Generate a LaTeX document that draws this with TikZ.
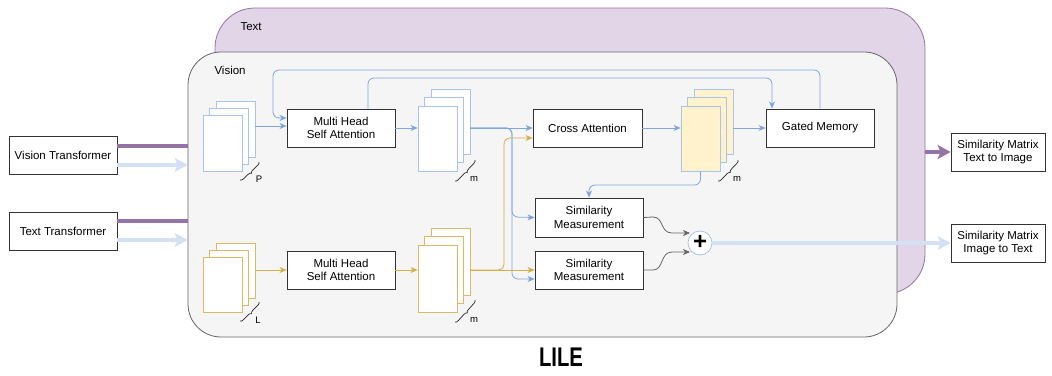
\documentclass[tikz,border=0pt]{standalone}
\usepackage{fontspec}
\setmainfont{Liberation Sans}
\usetikzlibrary{arrows.meta,calc,decorations.pathreplacing}
\definecolor{purpfill}{HTML}{E1D5E7}
\definecolor{purpline}{HTML}{9673A6}
\definecolor{visfill}{HTML}{F5F5F5}
\definecolor{visline}{HTML}{666666}
\definecolor{blu}{HTML}{7EA6E0}
\definecolor{pageblu}{HTML}{A9C4EB}
\definecolor{lightblu}{HTML}{D4E1F5}
\definecolor{gold}{HTML}{D6AE4A}
\definecolor{yel}{HTML}{FFF2CC}
\definecolor{gry}{HTML}{666666}
\begin{document}
\begin{tikzpicture}[x=1pt,y=-1pt,font=\fontsize{11.5}{13.5}\selectfont,
  box/.style={draw=black!80,fill=white,line width=0.8pt,align=center,inner sep=0pt,minimum width=108pt,minimum height=38pt},
  vpage/.style={draw=pageblu,fill=white,line width=0.8pt,minimum width=39pt,minimum height=#1,inner sep=0pt},
  opage/.style={draw=gold!85,fill=white,line width=0.8pt,minimum width=39pt,minimum height=#1,inner sep=0pt},
  ypage/.style={draw=pageblu,fill=yel,line width=0.8pt,minimum width=39pt,minimum height=#1,inner sep=0pt},
  bl/.style={draw=blu,line width=0.8pt,rounded corners=6pt,-{Stealth[length=7pt,width=6pt,inset=2pt]}},
  gl/.style={draw=gold,line width=0.8pt,rounded corners=6pt,-{Stealth[length=7pt,width=6pt,inset=2pt]}},
  grl/.style={draw=gry,line width=0.8pt,-{Stealth[length=7pt,width=6pt,inset=2pt]}},
  thickpurp/.style={draw=purpline,line width=4pt},
  thickblu/.style={draw=lightblu,line width=4pt,-{Stealth[length=13pt,width=14pt,inset=3pt]}},
  multmark/.style={draw=black!85,line width=0.7pt,decorate,decoration={brace,amplitude=3pt}},
  small/.style={font=\fontsize{9.5}{10}\selectfont,inner sep=0pt}]
\useasboundingbox (0,0) rectangle (1052,375);

% containers
\node[draw=purpline,fill=purpfill,line width=0.8pt,rounded corners=40pt,minimum width=710pt,minimum height=286pt,inner sep=0pt] (txtbox) at (570,151) {};
\node[anchor=west] (txtlbl) at (237,27) {Text};
\node[draw=visline,fill=visfill,line width=0.8pt,rounded corners=33pt,minimum width=709pt,minimum height=285pt,inner sep=0pt] (visbox) at (542.5,194.5) {};
\node[anchor=west] (vislbl) at (211,70) {Vision};

% outer boxes
\node[box] (vt) at (63,155) {Vision Transformer};
\node[box] (tt) at (63,231) {Text Transformer};
\node[box,minimum width=94pt] (sm1) at (998,152) {Similarity Matrix\\Text to Image};
\node[box,minimum width=94pt] (sm2) at (998,243) {Similarity Matrix\\Image to Text};

% inner boxes
\node[box] (mh1) at (341,128) {Multi Head\\Self Attention};
\node[box] (mh2) at (341,270) {Multi Head\\Self Attention};
\node[box,minimum width=109pt] (ca) at (587.5,128) {Cross Attention};
\node[box] (gm) at (820,128) {Gated Memory};
\node[box,minimum height=39pt] (s1) at (589,217.5) {Similarity\\Measurement};
\node[box] (s2) at (589,270) {Similarity\\Measurement};
\node[draw=pageblu,fill=white,line width=0.8pt,circle,minimum size=24pt,inner sep=0pt] (plus) at (700,243) {};
\node[font=\fontsize{24}{24}\selectfont\bfseries,inner sep=0pt] (plussign) at (700,242) {+};

% page stacks
\node[vpage=56pt] (p3) at (235.5,129) {};
\node[vpage=56pt] (p2) at (229,136) {};
\node[vpage=56pt] (p1) at (222.5,143) {};

\node[vpage=65pt] (m3) at (450.5,121.5) {};
\node[vpage=65pt] (m2) at (444,130) {};
\node[vpage=65pt] (m1) at (437.5,138.5) {};

\node[ypage=65pt] (y3) at (713.5,121.5) {};
\node[ypage=65pt] (y2) at (707,130) {};
\node[ypage=65pt] (y1) at (700.5,138.5) {};

\node[opage=55pt] (l3) at (235.5,270.5) {};
\node[opage=55pt] (l2) at (229,277.5) {};
\node[opage=55pt] (l1) at (222.5,284.5) {};

\node[opage=67pt] (t3) at (450.5,261.5) {};
\node[opage=67pt] (t2) at (444,270) {};
\node[opage=67pt] (t1) at (437.5,278.5) {};

% multiplicity marks
\draw[multmark] (259,162) -- (240,180);
\node[small] (lp) at (259,179) {P};
\draw[multmark] (475,160) -- (455,181);
\node[small] (lm1) at (474,179) {m};
\draw[multmark] (738,160) -- (718,181);
\node[small] (lm2) at (737,179) {m};
\draw[multmark] (259,302) -- (240,321);
\node[small] (ll) at (258,320) {L};
\draw[multmark] (475,300) -- (455,322);
\node[small] (lm3) at (474,320) {m};

% inputs
\draw[thickpurp] (vt.east |- 0,146) -- (visbox.west |- 0,146);
\draw[thickblu] (vt.east |- 0,165) -- (visbox.west |- 0,165);
\draw[thickpurp] (tt.east |- 0,221) -- (visbox.west |- 0,221);
\draw[thickblu] (tt.east |- 0,240) -- (visbox.west |- 0,240);

% outputs
\draw[draw=purpline,line width=4pt,-{Stealth[length=13pt,width=14pt,inset=3pt]}] (txtbox.east |- sm1.west) -- (sm1.west);
\draw[thickblu] (plus.east) -- (sm2.west);

% vision flow
\draw[bl] (p3.east |- 0,126) -- (mh1.west |- 0,126);
\draw[bl] (gm.north) |- (273,70) |- (mh1.west |- 0,118);
\draw[bl] (368,0 |- mh1.north) |- (772,78) -- (gm.north -| 772,0);
\draw[bl] (mh1.east) -- (m1.west |- mh1.east);
\draw[bl] (m3.east |- ca.west) -- (ca.west);
\draw[bl] (m3.east |- ca.west) -| (512,217) -- (s1.west);
\draw[bl] (m3.east |- ca.west) -| (512,279) -- (s2.west |- 0,279);
\draw[bl] (ca.east) -- (y1.west |- ca.east);
\draw[bl] (y3.east |- gm.west) -- (gm.west);
\draw[bl] (y1.south) |- (589,185) -- (s1.north);

% text flow
\draw[gl] (l3.east |- mh2.west) -- (mh2.west);
\draw[gl] (mh2.east) -- (t1.west |- mh2.east);
\draw[gl] (t3.east |- s2.west) -- (s2.west);
\draw[gl] (t3.east |- s2.west) -| (504,138) -- (ca.west |- 0,138);

% to plus
\draw[grl] (s1.east) -- (653,217) .. controls (664,217) and (660,233) .. (672,233) -- ($(plus.center)+(-10,-10)$);
\draw[grl] (s2.east) -- (653,270) .. controls (664,270) and (660,252) .. (672,252) -- ($(plus.center)+(-10,9)$);

% title
\node[font=\fontsize{27}{27}\selectfont\bfseries,inner sep=0pt] (title) at (561,357) {\scalebox{0.75}[1]{LILE}};
\end{tikzpicture}
\end{document}
